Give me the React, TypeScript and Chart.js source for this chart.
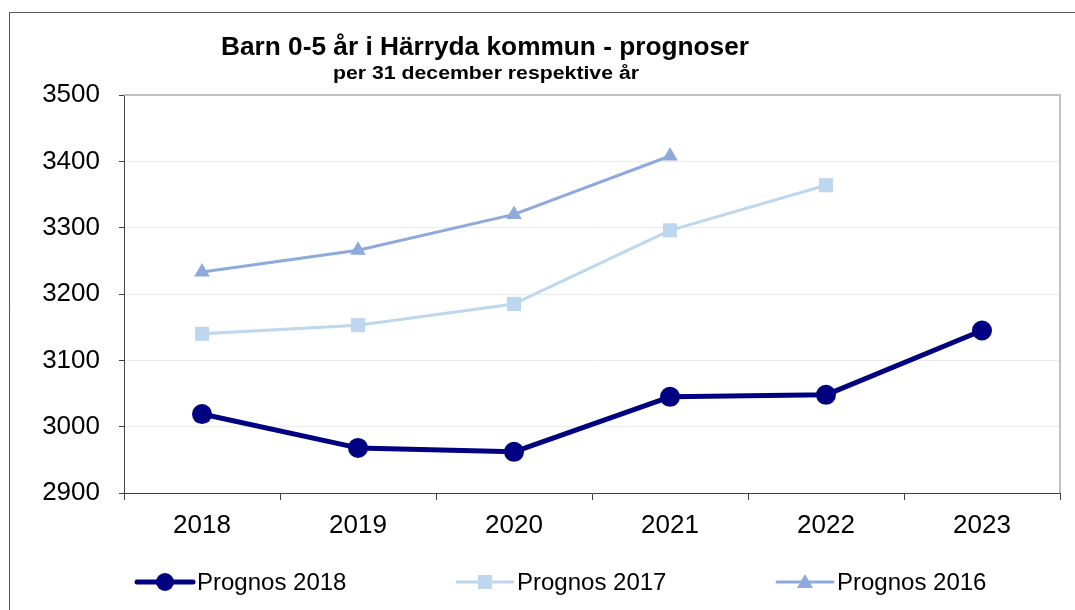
import React, { useEffect, useRef } from "react";
import { Chart, registerables } from "chart.js";

Chart.register(...registerables);

const categories = ["2018", "2019", "2020", "2021", "2022", "2023"];
const prognos2018 = [3019, 2968, 2962, 3045, 3048, 3145];
const prognos2017 = [3140, 3153, 3185, 3296, 3364, null];
const prognos2016 = [3233, 3266, 3320, 3408, null, null];
const seriesNames = ["Prognos 2018", "Prognos 2017", "Prognos 2016"];
const titleText = "Barn 0-5 år i Härryda kommun - prognoser";
const subtitleText = "per 31 december respektive år";

const FONT = "Arial, 'Liberation Sans', sans-serif";
const AXIS = "#404040";

function stretchedText(ctx: any, text: string, cx: number, y: number, targetW: number) {
  const w = ctx.measureText(text).width;
  const sx = targetW / w;
  ctx.save();
  ctx.translate(cx, y);
  ctx.scale(sx, 1);
  ctx.textAlign = "center";
  ctx.fillText(text, 0, 0);
  ctx.restore();
}

const decorPlugin = {
  id: "decor",
  beforeDraw(chart: any) {
    const ctx = chart.ctx;
    ctx.save();
    ctx.fillStyle = "#ffffff";
    ctx.fillRect(0, 0, chart.width, chart.height);
    ctx.strokeStyle = "#555555";
    ctx.lineWidth = 1;
    ctx.beginPath();
    ctx.moveTo(9.5, chart.height + 5);
    ctx.lineTo(9.5, 12.5);
    ctx.lineTo(chart.width + 5, 12.5);
    ctx.stroke();
    ctx.restore();
  },
  beforeDatasetsDraw(chart: any) {
    const ctx = chart.ctx;
    const a = chart.chartArea;
    ctx.save();
    ctx.strokeStyle = "#c0c0c0";
    ctx.lineWidth = 2;
    ctx.beginPath();
    ctx.moveTo(a.left, a.top);
    ctx.lineTo(a.right, a.top);
    ctx.lineTo(a.right, a.bottom);
    ctx.stroke();
    ctx.restore();
  },
  afterDraw(chart: any) {
    const ctx = chart.ctx;
    ctx.save();
    ctx.fillStyle = "#000000";
    ctx.textBaseline = "alphabetic";
    ctx.font = `bold 25px ${FONT}`;
    stretchedText(ctx, titleText, 485, 55, 528);
    ctx.font = `bold 18px ${FONT}`;
    stretchedText(ctx, subtitleText, 486, 79, 306);

    // legend
    const startX = 137;
    const gap = 320;
    const y = 582;
    chart.data.datasets.forEach((ds: any, i: number) => {
      const x0 = startX + i * gap;
      ctx.strokeStyle = ds.borderColor;
      ctx.lineWidth = ds.borderWidth;
      ctx.lineCap = "round";
      ctx.beginPath();
      ctx.moveTo(x0, y);
      ctx.lineTo(x0 + 56, y);
      ctx.stroke();
      ctx.lineCap = "butt";
      const style = ds.pointStyle;
      ctx.fillStyle = ds.pointBackgroundColor;
      ctx.beginPath();
      if (style === "circle") {
        ctx.arc(x0 + 28, y, 9, 0, Math.PI * 2);
      } else if (style === "rect") {
        ctx.rect(x0 + 28 - 7, y - 7, 14, 14);
      } else {
        ctx.moveTo(x0 + 28, y - 8);
        ctx.lineTo(x0 + 28 + 8, y + 6);
        ctx.lineTo(x0 + 28 - 8, y + 6);
        ctx.closePath();
      }
      ctx.fill();
      ctx.fillStyle = "#000000";
      ctx.textAlign = "left";
      ctx.textBaseline = "middle";
      ctx.font = `24px ${FONT}`;
      ctx.fillText(ds.label, x0 + 60, y + 1);
    });
    ctx.restore();
  },
};

export default function App() {
  const ref = useRef<HTMLCanvasElement | null>(null);
  useEffect(() => {
    if (!ref.current) return;
    const chart = new Chart(ref.current, {
      type: "line",
      data: {
        labels: categories,
        datasets: [
          {
            label: seriesNames[0],
            data: prognos2018,
            borderColor: "#000080",
            backgroundColor: "#000080",
            pointBackgroundColor: "#000080",
            pointBorderColor: "#000080",
            borderWidth: 5,
            pointStyle: "circle",
            pointRadius: 10,
            pointBorderWidth: 0,
            tension: 0,
          },
          {
            label: seriesNames[1],
            data: prognos2017,
            borderColor: "#BDD7EE",
            backgroundColor: "#BDD7EE",
            pointBackgroundColor: "#BDD7EE",
            pointBorderColor: "#BDD7EE",
            borderWidth: 3,
            pointStyle: "rect",
            pointRadius: 10,
            pointBorderWidth: 0,
            tension: 0,
          },
          {
            label: seriesNames[2],
            data: prognos2016,
            borderColor: "#8EA9DB",
            backgroundColor: "#8EA9DB",
            pointBackgroundColor: "#8EA9DB",
            pointBorderColor: "#8EA9DB",
            borderWidth: 3,
            pointStyle: "triangle",
            pointRadius: 9,
            pointBorderWidth: 0,
            tension: 0,
          },
        ],
      },
      options: {
        animation: false,
        responsive: false,
        devicePixelRatio: 1,
        layout: { padding: { left: 0, right: 15, top: 95, bottom: 67 } },
        plugins: {
          legend: { display: false },
          title: { display: false },
          tooltip: { enabled: false },
        },
        elements: { line: { borderJoinStyle: "round" } },
        scales: {
          x: {
            type: "category",
            offset: true,
            afterFit: (s: any) => {
              s.height = 50;
            },
            grid: {
              display: true,
              offset: true,
              drawOnChartArea: false,
              drawTicks: true,
              tickLength: 7,
              tickColor: AXIS,
            },
            border: { display: true, color: AXIS, width: 1 },
            ticks: {
              color: "#000000",
              font: { family: FONT, size: 26 },
              padding: 10,
              maxRotation: 0,
            },
          },
          y: {
            type: "linear",
            min: 2900,
            max: 3500,
            afterFit: (s: any) => {
              s.width = 124;
            },
            grid: {
              color: "#ebebeb",
              lineWidth: 1,
              drawTicks: true,
              tickLength: 5,
              tickColor: AXIS,
            },
            border: { display: true, color: AXIS, width: 1 },
            ticks: {
              stepSize: 100,
              color: "#000000",
              font: { family: FONT, size: 26 },
              padding: 19,
              callback: (v: any) => String(v),
            },
          },
        },
      },
      plugins: [decorPlugin],
    });
    return () => chart.destroy();
  }, []);
  return (
    <div style={{ position: "absolute", left: 0, top: 0, width: 1075, height: 610 }}>
      <canvas ref={ref} width={1075} height={610} style={{ display: "block", width: 1075, height: 610 }} />
    </div>
  );
}
